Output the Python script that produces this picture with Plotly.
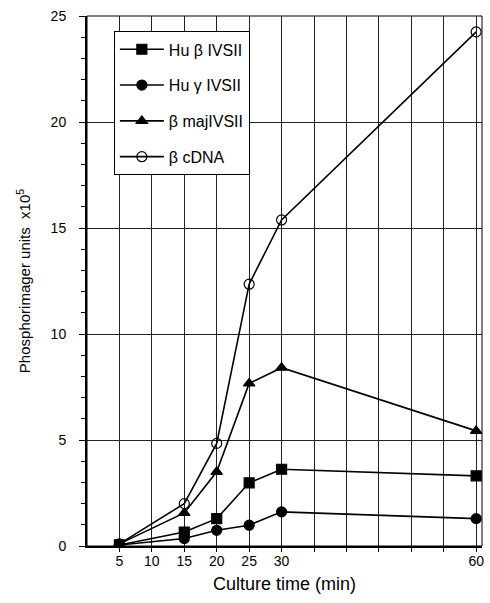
import plotly.graph_objects as go

times = [5, 15, 20, 25, 30, 60]
hu_beta = [0.05, 0.66, 1.29, 2.98, 3.62, 3.31]
hu_gamma = [0.05, 0.35, 0.74, 0.98, 1.61, 1.29]
beta_maj = [0.1, 1.56, 3.5, 7.67, 8.41, 5.43]
beta_cdna = [0.1, 2.0, 4.84, 12.35, 15.38, 24.25]

names = ["Hu β IVSII", "Hu γ IVSII", "β majIVSII", "β cDNA"]
symbols = ["square", "circle", "triangle-up", "circle-open"]
sizes = [10, 10, 10, 10]
series = [hu_beta, hu_gamma, beta_maj, beta_cdna]

x_tickvals = [5, 10, 15, 20, 25, 30, 35, 40, 45, 50, 55, 60]
x_ticktext = ["5", "10", "15", "20", "25", "30", "", "", "", "", "", "60"]
y_tickvals = [0, 5, 10, 15, 20, 25]

fig = go.Figure()
for i, (nm, sym, sz, ys) in enumerate(zip(names, symbols, sizes, series)):
    fig.add_trace(go.Scatter(
        x=times, y=ys, name=nm, mode="lines+markers",
        legendgroup=str(i),
        line=dict(color="black", width=1.6),
        marker=dict(symbol=sym, size=sz, color="black",
                    line=dict(color="black", width=1.2)),
    ))

font_family = "Liberation Sans, Arial, sans-serif"
fig.update_layout(
    width=490, height=603,
    margin=dict(l=87, r=6, t=16, b=57),
    paper_bgcolor="white", plot_bgcolor="white",
    font=dict(family=font_family, color="black", size=13),
    showlegend=True,
    legend=dict(
        x=0.068, y=0.971, xanchor="left", yanchor="top",
        bgcolor="white", bordercolor="black", borderwidth=1,
        font=dict(size=16, family=font_family),
        tracegroupgap=12, itemwidth=44,
    ),
)
fig.update_xaxes(
    range=[0, 60.9], tickvals=x_tickvals, ticktext=x_ticktext,
    showgrid=True, gridcolor="#222", gridwidth=1,
    showline=True, linecolor="black", linewidth=2,
    ticks="outside", ticklen=4, tickcolor="black",
    zeroline=False, ticklabelstandoff=-3,
    title=dict(text="Culture time (min)", font=dict(size=18), standoff=10),
    tickfont=dict(size=14),
)
fig.update_yaxes(
    range=[0, 25], tickvals=y_tickvals,
    showgrid=True, gridcolor="#222", gridwidth=1,
    showline=True, linecolor="black", linewidth=2,
    ticks="outside", ticklen=6, tickcolor="black",
    minor=dict(dtick=1, ticks="outside", ticklen=4, tickcolor="black", showgrid=False),
    zeroline=False, ticklabelstandoff=10,
    title=dict(text="Phosphorimager units  x10<sup>5</sup>", font=dict(size=15), standoff=16),
    tickfont=dict(size=14),
)
fig.add_shape(type="rect", xref="paper", yref="paper", x0=0, y0=0, x1=1, y1=1,
              line=dict(color="black", width=1), layer="above")

fig.write_html("out.html", config={"displayModeBar": False},
               post_script="document.body.style.margin='0';document.body.style.overflow='hidden';")
